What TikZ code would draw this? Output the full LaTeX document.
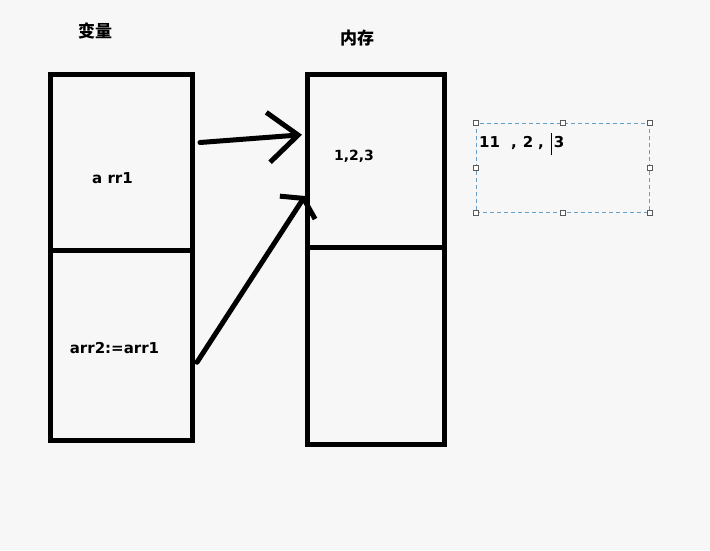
\documentclass[tikz,border=0pt]{standalone}
\usepackage{fontspec}
\setsansfont{DejaVu Sans}
\newfontfamily\cjk{Noto Sans CJK SC}
\usetikzlibrary{arrows.meta,positioning}
\definecolor{bg}{RGB}{247,247,247}
\definecolor{boxblue}{RGB}{105,160,200}
\definecolor{handlegray}{RGB}{90,90,90}
\tikzset{
  cell/.style={draw, line width=5pt, outer sep=0pt, inner sep=0pt},
  stroke/.style={line width=5pt, line cap=round, line join=round},
  lbl/.style={font=\sffamily\bfseries\fontsize{15}{18}\selectfont, inner sep=0pt},
  head/.style={font=\cjk\bfseries\fontsize{17}{20}\selectfont, inner sep=0pt},
  handle/.style={draw=handlegray, fill=white, line width=0.7pt, minimum size=5pt, inner sep=0pt}
}
\begin{document}
\begin{tikzpicture}[x=1pt,y=-1pt]
    \fill[bg] (0,0) rectangle (710,550);
    \useasboundingbox (0,0) rectangle (710,550);
    % variables
    \node[head] (hvar) at (95,31) {变量};
    \node[cell, minimum width=142.5pt, minimum height=176pt, anchor=north west] (var1) at (50,74.5) {};
    \node[cell, minimum width=142.5pt, minimum height=189.5pt, below=0pt of var1] (var2) {};
    \node[lbl] (arr1) at (112.5,178) {a rr1};
    \node[lbl] (arr2) at (114.5,348) {arr2:=arr1};
    % memory
    \node[head] (hmem) at (357,38) {内存};
    \node[cell, minimum width=137pt, minimum height=172.5pt, anchor=north west] (mem1) at (307.5,74.5) {};
    \node[cell, minimum width=137pt, minimum height=197pt, below=0pt of mem1] (mem2) {};
    \node[lbl, font=\sffamily\bfseries\fontsize{14}{17}\selectfont] (vals) at (354,156) {1,2,3};
    % references
    \draw[stroke, -{Straight Barb[length=30pt,width=50pt]}] ([xshift=7.5pt,yshift=20pt]var1.east) -- ([xshift=-5.5pt,yshift=26pt]mem1.west);
    \draw[stroke, -{Straight Barb[length=11pt,width=42pt]}] ([xshift=4.5pt,yshift=-17pt]var2.east) -- ([xshift=-2.5pt,yshift=51pt]mem1.south west);
    % text box being edited
    \node[draw=boxblue, dashed, dash pattern=on 4pt off 3pt, line width=0.8pt, minimum width=173pt, minimum height=89pt, anchor=north west] (edit) at (476,123) {};
    \foreach \a/\n in {north west/nw, north/n, north east/ne, east/e, south east/se, south/s, south west/sw, west/w}
      \node[handle] (h-\n) at (edit.\a) {};
    \node[lbl, anchor=base west] (typed) at (479,147) {11\hspace{11pt},\hspace{6pt}2\hspace{5pt},\hspace{7pt}\textmd{\rule[-8pt]{0.9pt}{22pt}}\hspace{2pt}3};
\end{tikzpicture}
\end{document}
